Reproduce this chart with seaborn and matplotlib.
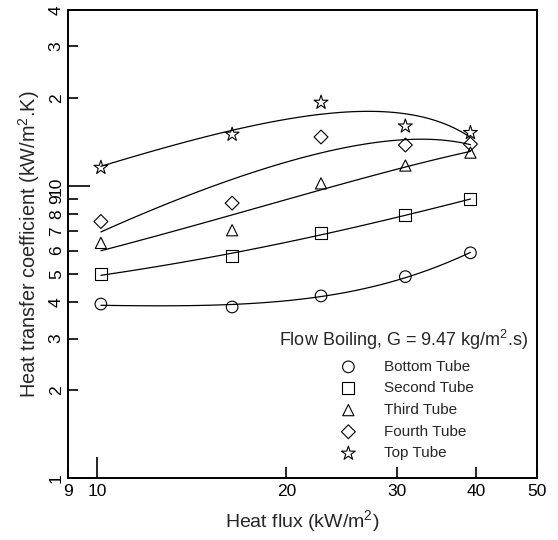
import numpy as np
import pandas as pd
import matplotlib
matplotlib.use("Agg")
import matplotlib.pyplot as plt
import seaborn as sns
from matplotlib.ticker import FixedLocator, FixedFormatter

sns.set_style("white")
plt.rcParams['font.family'] = ['Liberation Sans', 'DejaVu Sans']
plt.rcParams['mathtext.fontset'] = 'custom'
plt.rcParams['mathtext.rm'] = 'Liberation Sans'

heat_flux = [10.15, 16.4, 22.7, 30.9, 39.2]
bottom_tube = [3.94, 3.85, 4.2, 4.89, 5.9]
second_tube = [5.0, 5.74, 6.89, 7.94, 9.0]
third_tube = [6.38, 7.05, 10.2, 11.74, 13.0]
fourth_tube = [7.55, 8.73, 14.7, 13.8, 13.9]
top_tube = [11.55, 15.0, 19.3, 16.0, 15.2]

series_names = ["Bottom Tube", "Second Tube", "Third Tube", "Fourth Tube", "Top Tube"]
series_vals = [bottom_tube, second_tube, third_tube, fourth_tube, top_tube]
markers = ["o", "s", "^", "D", "*"]
msizes = [70, 75, 65, 50, 110]

x_ticks = [9, 10, 20, 30, 40, 50]
y_major = [1, 10]
y_major_labels = ["1", "10"]
y_minor = [2, 3, 4, 5, 6, 7, 8, 9, 20, 30, 40]
y_minor_labels = ["2", "3", "4", "5", "6", "7", "8", "9", "2", "3", "4"]

fig = plt.figure(figsize=(5.58, 5.40), dpi=100)
ax = fig.add_axes([68/558, 62/540, 469/558, 468/540])

for name, vals, m, s in zip(series_names, series_vals, markers, msizes):
    df = pd.DataFrame({"q": heat_flux, "h": vals})
    sns.regplot(data=df, x="q", y="h", order=2, ci=None, scatter=False,
                line_kws=dict(color="black", lw=0.9), ax=ax)
    ax.scatter(df["q"], df["h"], marker=m, s=s, facecolors="none",
               edgecolors="black", linewidths=0.8, label=name, zorder=3)

ax.set_xscale("log")
ax.set_yscale("log")
ax.set_xlim(9, 50)
ax.set_ylim(1, 40)

ax.xaxis.set_major_locator(FixedLocator([10]))
ax.xaxis.set_major_formatter(FixedFormatter(["10"]))
ax.xaxis.set_minor_locator(FixedLocator([9, 20, 30, 40, 50]))
ax.xaxis.set_minor_formatter(FixedFormatter(["9", "20", "30", "40", "50"]))
ax.yaxis.set_major_locator(FixedLocator(y_major))
ax.yaxis.set_major_formatter(FixedFormatter(y_major_labels))
ax.yaxis.set_minor_locator(FixedLocator(y_minor))
ax.yaxis.set_minor_formatter(FixedFormatter(y_minor_labels))

ax.tick_params(axis="both", which="both", direction="in", colors="black",
               labelsize=12.5, width=1.2, bottom=True, left=True, top=False, right=False)
ax.tick_params(axis="x", which="major", length=15, pad=4)
ax.tick_params(axis="x", which="minor", length=8, pad=4)
ax.tick_params(axis="y", which="major", length=16, pad=3)
ax.tick_params(axis="y", which="minor", length=7, pad=3)
for lab in ax.get_yticklabels(which="both"):
    lab.set_rotation(90)
    lab.set_va("center")

for sp in ax.spines.values():
    sp.set_color("black")
    sp.set_linewidth(1.4)

ax.set_xlabel("Heat flux (kW/m$^2$)", fontsize=14, labelpad=7)
ax.set_ylabel("Heat transfer coefficient (kW/m$^2$.K)", fontsize=14.3, labelpad=5)

leg = ax.legend(title="Flow Boiling, G = 9.47 kg/m$^2$.s)", frameon=False,
                loc="lower right", bbox_to_anchor=(1.0, 0.018), fontsize=11,
                title_fontsize=13, handletextpad=1.3, labelspacing=0.5,
                borderaxespad=0.2)
leg._legend_box.align = "center"

fig.savefig("out.png", dpi=100)
